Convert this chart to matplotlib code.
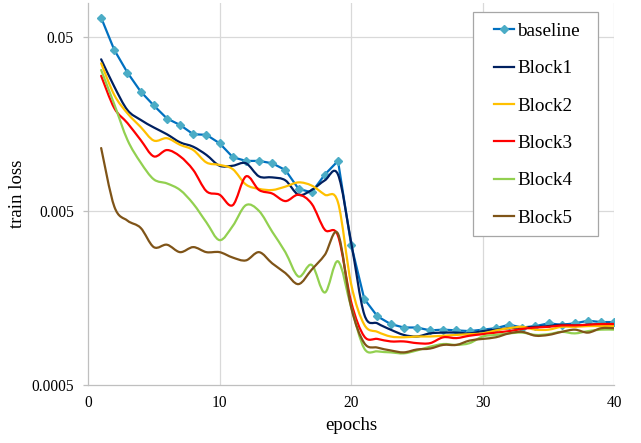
import numpy as np
import matplotlib
matplotlib.use("Agg")
import matplotlib.pyplot as plt
from matplotlib.path import Path
from matplotlib.patches import PathPatch, Rectangle
from matplotlib.lines import Line2D

plt.rcParams["font.family"] = ["Liberation Serif", "DejaVu Serif"]

# ---------- data ----------
epochs = list(range(1, 41))
baseline = [0.0645, 0.0421, 0.0312, 0.0243, 0.0202, 0.0170, 0.0156, 0.0138, 0.0137, 0.01225,
            0.0102, 0.0097, 0.0097, 0.0094, 0.0086, 0.0067, 0.0064, 0.0081, 0.0097, 0.0032,
            0.00156, 0.00124, 0.00112, 0.00107, 0.00107, 0.00103, 0.00104, 0.00103, 0.00102, 0.00104,
            0.00106, 0.00111, 0.00107, 0.00109, 0.00113, 0.00111, 0.00113, 0.00117, 0.00115, 0.00115]
block1 = [0.0372, 0.0259, 0.0190, 0.0167, 0.0151, 0.0138, 0.0124, 0.0117, 0.0105, 0.0091,
          0.0091, 0.0094, 0.0079, 0.0078, 0.0075, 0.0062, 0.0066, 0.0075, 0.0081, 0.0033,
          0.00127, 0.00113, 0.00104, 0.00097, 0.00095, 0.00099, 0.00100, 0.00100, 0.00099, 0.00102,
          0.00104, 0.00106, 0.00107, 0.00108, 0.00109, 0.00111, 0.00110, 0.00111, 0.00112, 0.00112]
block2 = [0.0353, 0.0232, 0.0182, 0.0152, 0.0127, 0.0131, 0.0120, 0.0112, 0.0095, 0.0092,
          0.0087, 0.0071, 0.0067, 0.0066, 0.0069, 0.0073, 0.0070, 0.0062, 0.0056, 0.0019,
          0.00111, 0.00101, 0.00095, 0.00094, 0.00095, 0.00095, 0.00096, 0.00097, 0.00098, 0.00099,
          0.00103, 0.00106, 0.00108, 0.00104, 0.00104, 0.00108, 0.00108, 0.00109, 0.00109, 0.00109]
block3 = [0.0299, 0.0195, 0.0160, 0.0128, 0.0103, 0.0112, 0.0103, 0.0086, 0.0065, 0.0062,
          0.0054, 0.0079, 0.0066, 0.0063, 0.0057, 0.0062, 0.0055, 0.0039, 0.0036, 0.0015,
          0.00095, 0.00092, 0.00089, 0.00089, 0.00087, 0.00087, 0.00094, 0.00093, 0.00096, 0.00098,
          0.00100, 0.00102, 0.00105, 0.00107, 0.00108, 0.00110, 0.00110, 0.00111, 0.00112, 0.00112]
block4 = [0.0323, 0.0205, 0.0128, 0.0095, 0.0076, 0.0072, 0.0066, 0.0055, 0.0043, 0.0034,
          0.0041, 0.0054, 0.0050, 0.0038, 0.0029, 0.0021, 0.00245, 0.00170, 0.00257, 0.0014,
          0.00081, 0.00078, 0.00077, 0.00076, 0.00079, 0.00083, 0.00086, 0.00085, 0.00087, 0.00095,
          0.00097, 0.00099, 0.00100, 0.00097, 0.00098, 0.00101, 0.00099, 0.00102, 0.00104, 0.00104]
block5 = [0.0115, 0.0053, 0.0044, 0.0040, 0.0031, 0.0032, 0.0029, 0.0031, 0.0029, 0.0029,
          0.0027, 0.0026, 0.0029, 0.0025, 0.0022, 0.0019, 0.0023, 0.0028, 0.0037, 0.0014,
          0.00087, 0.00082, 0.00079, 0.00077, 0.00080, 0.00081, 0.00085, 0.00085, 0.00090, 0.00092,
          0.00094, 0.00099, 0.00101, 0.00096, 0.00097, 0.00101, 0.00104, 0.00100, 0.00106, 0.00106]

names = ["baseline", "Block1", "Block2", "Block3", "Block4", "Block5"]
colors = ["#0070C0", "#002060", "#FFC000", "#FF0000", "#92D050", "#7F5418"]
marker_color = "#4BACC6"
yticks = [0.0005, 0.005, 0.05]
ytick_labels = ["0.0005", "0.005", "0.05"]
xticks = [0, 10, 20, 30, 40]


def smooth_path(x, y):
    # Excel-style smoothed line: cubic bezier through the points (in log-y space)
    pts = np.column_stack([np.asarray(x, float), np.log10(y)])
    n = len(pts)
    verts, codes = [pts[0]], [Path.MOVETO]
    for i in range(n - 1):
        p0, p1, p2, p3 = pts[max(i - 1, 0)], pts[i], pts[i + 1], pts[min(i + 2, n - 1)]
        verts += [p1 + (p2 - p0) / 6, p2 - (p3 - p1) / 6, p2]
        codes += [Path.CURVE4] * 3
    v = np.array(verts)
    v[:, 1] = 10 ** v[:, 1]
    return Path(v, codes)


W, H = 641, 443
fig = plt.figure(figsize=(W / 100, H / 100), dpi=100)
ax = fig.add_axes([88 / W, 1 - 385 / H, 526.3 / W, 382.3 / H])
ax.set_yscale("log")
ax.set_xlim(0, 40)
ax.set_ylim(0.0005, 0.0787)

grid_c = "#D9D9D9"
for xv in xticks[1:]:
    ax.axvline(xv, color=grid_c, lw=0.9, zorder=0)
for yv in yticks[1:]:
    ax.axhline(yv, color=grid_c, lw=0.9, zorder=0)

# baseline: straight segments with diamond markers, blocks: smoothed lines
ax.plot(epochs, baseline, color=colors[0], lw=1.6, marker="D", ms=4.3,
        markerfacecolor=marker_color, markeredgecolor=marker_color, zorder=2)
for vals, c in zip([block1, block2, block3, block4, block5], colors[1:]):
    ax.add_patch(PathPatch(smooth_path(epochs, vals), fill=False, edgecolor=c, lw=1.6,
                           capstyle="round", joinstyle="round", zorder=2))

for s in ["top", "right"]:
    ax.spines[s].set_visible(False)
for s in ["left", "bottom"]:
    ax.spines[s].set_color("#BFBFBF")
    ax.spines[s].set_linewidth(0.9)

ax.set_xticks(xticks)
ax.set_yticks(yticks)
ax.set_yticklabels(ytick_labels)
ax.yaxis.set_minor_locator(matplotlib.ticker.NullLocator())
ax.tick_params(axis="x", length=0, pad=7, labelsize=11.2)
ax.tick_params(axis="y", length=3.8, width=0.9, color="#BFBFBF", pad=6.3, labelsize=11.2)

ax.set_xlabel("epochs", fontsize=13.5)
ax.set_ylabel("train loss", fontsize=13.5)
ax.xaxis.set_label_coords(0.5, -0.084)
ax.yaxis.set_label_coords(-0.118, 0.5)

# legend with its own frame
fig.patches.append(Rectangle((473 / W, 1 - 236 / H), 125 / W, 224 / H, transform=fig.transFigure,
                             facecolor="white", edgecolor="#A6A6A6", lw=0.9, zorder=3))
handles = [Line2D([], [], color=colors[0], lw=1.6, marker="D", ms=4.3,
                  markerfacecolor=marker_color, markeredgecolor=marker_color)]
handles += [Line2D([], [], color=c, lw=1.6) for c in colors[1:]]
fig.legend(handles, names, loc="upper left", bbox_to_anchor=(494 / W, 1 - 22.5 / H),
           frameon=False, fontsize=13.8, borderpad=0, borderaxespad=0, handlelength=1.05,
           handletextpad=0.15, labelspacing=1.04)

fig.savefig("out.png", dpi=100)
